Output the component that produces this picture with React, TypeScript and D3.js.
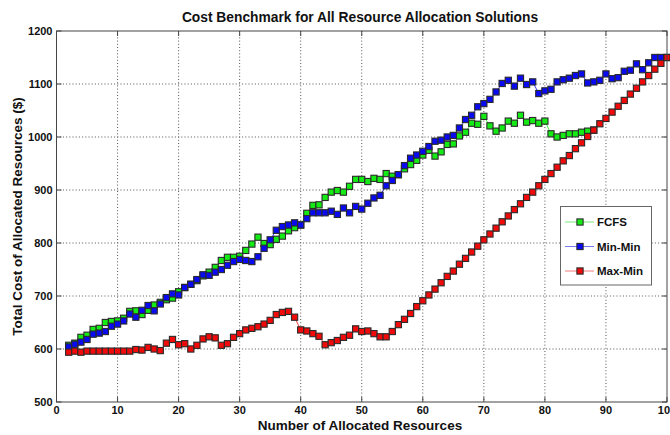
import React from 'react';
import * as d3 from 'd3';

// values (x = number of allocated resources)
const fcfsX = d3.range(2, 89);
const fcfs = [
  607, 611, 622, 626, 637, 639, 650, 652, 653, 658, 671, 672, 665, 673, 683, 688, 693, 696, 708,
  716, 722, 729, 738, 745, 754, 767, 773, 773, 775, 786, 798, 811, 799, 797, 807, 813, 823, 829,
  834, 856, 871, 872, 886, 896, 899, 896, 907, 920, 920, 916, 922, 920, 931, 926, 929, 940, 948,
  956, 966, 975, 964, 972, 986, 987, 1002, 1009, 1026, 1024, 1039, 1021, 1011, 1017, 1030, 1026,
  1041, 1028, 1031, 1026, 1030, 1006, 1000, 1003, 1006, 1006, 1009, 1011, 1013,
];

const minMinX = d3.range(2, 101);
const minMin = [
  604, 609, 613, 618, 628, 630, 633, 643, 647, 653, 666, 660, 673, 682, 672, 685, 697, 704, 702,
  716, 722, 731, 740, 739, 745, 750, 758, 765, 769, 767, 765, 774, 790, 806, 824, 831, 834, 838,
  834, 846, 857, 857, 857, 860, 854, 866, 857, 869, 864, 875, 885, 890, 908, 918, 929, 946, 960,
  966, 973, 982, 992, 994, 1000, 1003, 1017, 1033, 1041, 1057, 1063, 1071, 1085, 1101, 1107, 1096,
  1111, 1099, 1104, 1082, 1087, 1090, 1104, 1108, 1111, 1116, 1119, 1102, 1104, 1107, 1119, 1110,
  1112, 1124, 1126, 1138, 1127, 1140, 1150, 1150, 1150,
];

const maxMinX = d3.range(2, 101);
const maxMin = [
  594, 596, 594, 596, 596, 596, 596, 596, 596, 596, 596, 599, 598, 603, 600, 597, 611, 618, 608,
  610, 600, 607, 619, 623, 621, 607, 610, 622, 629, 636, 639, 642, 647, 654, 665, 669, 671, 660,
  636, 634, 629, 624, 608, 612, 616, 622, 626, 638, 633, 634, 629, 623, 623, 633, 646, 656, 667,
  680, 691, 702, 713, 725, 737, 747, 760, 771, 783, 794, 806, 817, 828, 840, 851, 863, 874, 886,
  896, 908, 920, 931, 943, 955, 965, 978, 989, 1001, 1013, 1025, 1035, 1047, 1058, 1069, 1081,
  1092, 1104, 1116, 1128, 1139, 1150,
];

const xTicks = [0, 10, 20, 30, 40, 50, 60, 70, 80, 90, 100];
const yTicks = [500, 600, 700, 800, 900, 1000, 1100, 1200];

const series = [
  { name: 'FCFS', xs: fcfsX, ys: fcfs, color: '#14eb14', light: '#7be87b' },
  { name: 'Min-Min', xs: minMinX, ys: minMin, color: '#0a0af0', light: '#7b7bf0' },
  { name: 'Max-Min', xs: maxMinX, ys: maxMin, color: '#f00a0a', light: '#f07b7b' },
];

const W = 670;
const H = 435;
const left = 56.5;
const right = 667;
const top = 31;
const bottom = 402;
const font = 'Arial, "Liberation Sans", Helvetica, sans-serif';

export default function App() {
  const x = d3.scaleLinear().domain([0, 100]).range([left, right]);
  const y = d3.scaleLinear().domain([500, 1200]).range([bottom, top]);

  const line = d3
    .line<[number, number]>()
    .x((d) => x(d[0]))
    .y((d) => y(d[1]));

  const ms = 6.2; // marker side

  return (
    <div style={{ position: 'absolute', left: 0, top: 0 }}>
      <svg width={W} height={H} style={{ display: 'block', background: '#fff' }}>
        {/* grid */}
        <g stroke="#555" strokeWidth={1} strokeDasharray="1,2.2">
          {xTicks.slice(1, -1).map((t) => (
            <line key={'gx' + t} x1={x(t)} x2={x(t)} y1={top} y2={bottom} />
          ))}
          {yTicks.slice(1, -1).map((t) => (
            <line key={'gy' + t} x1={left} x2={right} y1={y(t)} y2={y(t)} />
          ))}
        </g>

        {/* series */}
        {series.map((s) => {
          const pts = s.xs.map((v, i) => [v, s.ys[i]] as [number, number]);
          return (
            <g key={s.name}>
              <path d={line(pts)!} fill="none" stroke={s.color} strokeWidth={0.8} />
              {pts.map((p, i) => (
                <rect
                  key={i}
                  x={x(p[0]) - ms / 2}
                  y={y(p[1]) - ms / 2}
                  width={ms}
                  height={ms}
                  fill={s.color}
                  stroke="#2a2a2a"
                  strokeWidth={1.1}
                />
              ))}
            </g>
          );
        })}

        {/* box and ticks */}
        <rect x={left} y={top} width={right - left} height={bottom - top} fill="none" stroke="#454545" strokeWidth={1} />
        <g stroke="#454545" strokeWidth={1}>
          {xTicks.map((t) => (
            <g key={'tx' + t}>
              <line x1={x(t)} x2={x(t)} y1={bottom} y2={bottom - 5} />
              <line x1={x(t)} x2={x(t)} y1={top} y2={top + 5} />
            </g>
          ))}
          {yTicks.map((t) => (
            <g key={'ty' + t}>
              <line x1={left} x2={left + 5} y1={y(t)} y2={y(t)} />
              <line x1={right} x2={right - 5} y1={y(t)} y2={y(t)} />
            </g>
          ))}
        </g>

        {/* tick labels */}
        <g fontFamily={font} fontWeight="bold" fontSize={11} fill="#111">
          {xTicks.map((t) => (
            <text key={'lx' + t} x={x(t)} y={bottom + 12} textAnchor="middle">
              {t}
            </text>
          ))}
          {yTicks.map((t) => (
            <text key={'ly' + t} x={left - 4} y={y(t) + 4} textAnchor="end">
              {t}
            </text>
          ))}
        </g>

        {/* titles */}
        <text x={360} y={21.5} textAnchor="middle" fontFamily={font} fontWeight="bold" fontSize={13.8} fill="#111">
          Cost Benchmark for All Resource Allocation Solutions
        </text>
        <text x={360} y={430} textAnchor="middle" fontFamily={font} fontWeight="bold" fontSize={13.5} fill="#111">
          Number of Allocated Resources
        </text>
        <text
          transform={`translate(21.5, ${(top + bottom) / 2}) rotate(-90)`}
          textAnchor="middle"
          fontFamily={font}
          fontWeight="bold"
          fontSize={13.5}
          fill="#111"
        >
          Total Cost of Allocated Resources ($)
        </text>

        {/* legend */}
        <g>
          <rect x={560.5} y={206.5} width={91} height={78.5} fill="#fff" stroke="#666" strokeWidth={1} />
          {series.map((s, i) => {
            const cy = 222 + i * 24.5;
            return (
              <g key={'lg' + s.name}>
                <line x1={565} x2={594} y1={cy} y2={cy} stroke={s.light} strokeWidth={1} />
                <rect x={580 - ms / 2} y={cy - ms / 2} width={ms} height={ms} fill={s.color} stroke="#2a2a2a" strokeWidth={1.1} />
                <text x={597} y={cy + 4} fontFamily={font} fontWeight="bold" fontSize={11.5} fill="#111">
                  {s.name}
                </text>
              </g>
            );
          })}
        </g>
      </svg>
    </div>
  );
}
